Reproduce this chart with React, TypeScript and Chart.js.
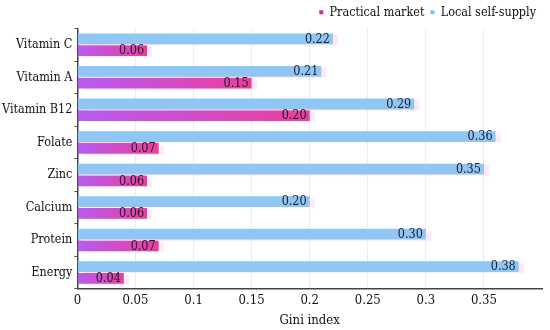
import React, { useEffect, useRef } from "react";
import { Chart, registerables } from "chart.js";

Chart.register(...registerables);

const categories = ["Vitamin C", "Vitamin A", "Vitamin B12", "Folate", "Zinc", "Calcium", "Protein", "Energy"];
const localSelfSupply = [0.22, 0.21, 0.29, 0.36, 0.35, 0.2, 0.3, 0.38];
const practicalMarket = [0.06, 0.15, 0.2, 0.07, 0.06, 0.06, 0.07, 0.04];
const xTicks = [0, 0.05, 0.1, 0.15, 0.2, 0.25, 0.3, 0.35];

const FONT = "'DejaVu Serif Condensed', 'DejaVu Serif', serif";

const labelPlugin = {
  id: "valueLabels",
  afterDatasetsDraw(chart: any) {
    const ctx = chart.ctx;
    ctx.save();
    ctx.font = `12.5px ${FONT}`;
    ctx.fillStyle = "#1a1a2a";
    ctx.textAlign = "right";
    ctx.textBaseline = "middle";
    chart.data.datasets.forEach((ds: any, di: number) => {
      const meta = chart.getDatasetMeta(di);
      meta.data.forEach((el: any, i: number) => {
        const v = ds.data[i];
        ctx.fillText(v.toFixed(2), el.x - 3, el.y + 0.5);
      });
    });
    ctx.restore();
  },
};

const shadowPlugin = {
  id: "barShadow",
  beforeDatasetDraw(chart: any) {
    const ctx = chart.ctx;
    ctx.save();
    ctx.shadowColor = "rgba(255, 205, 238, 0.45)";
    ctx.shadowOffsetX = 5;
    ctx.shadowOffsetY = 1;
    ctx.shadowBlur = 1;
  },
  afterDatasetDraw(chart: any) {
    chart.ctx.restore();
  },
};

export default function App() {
  const ref = useRef<HTMLCanvasElement>(null);
  useEffect(() => {
    document.body.style.margin = "0";
    const c = ref.current!;
    const chart = new Chart(c, {
      type: "bar",
      data: {
        labels: categories,
        datasets: [
          {
            label: "Local self-supply",
            data: localSelfSupply,
            backgroundColor: "#8fc6f3",
            borderWidth: 0,
          } as any,
          {
            label: "Practical market",
            data: practicalMarket,
            backgroundColor: (ctx: any) => {
              const ch = ctx.chart;
              const x = ch.scales?.x;
              if (!x || ctx.parsed === undefined || ctx.parsed.x === undefined) return "#d94fc0";
              const x0 = x.getPixelForValue(0);
              const x1 = x.getPixelForValue(ctx.parsed.x);
              if (!isFinite(x0) || !isFinite(x1) || x1 - x0 < 1) return "#d94fc0";
              const g = ch.ctx.createLinearGradient(x0, 0, x1, 0);
              g.addColorStop(0, "#b65cf2");
              g.addColorStop(1, "#ea3f9a");
              return g;
            },
            borderWidth: 0,
          } as any,
        ],
      },
      options: {
        indexAxis: "y",
        animation: false,
        responsive: false,
        devicePixelRatio: 1,
        layout: { padding: { left: 0, right: 8, top: 0, bottom: 2 } },
        datasets: { bar: { categoryPercentage: 0.72, barPercentage: 0.92 } },
        plugins: {
          legend: {
            position: "top",
            align: "end",
            labels: {
              usePointStyle: true,
              pointStyle: "rect",
              boxWidth: 4,
              boxHeight: 4,
              padding: 6,
              color: "#111",
              font: { family: FONT, size: 12.5 },
              generateLabels: (chart: any) => {
                const cols = ["#7fbfee", "#e0258f"];
                return chart.data.datasets
                  .map((ds: any, i: number) => ({
                    text: ds.label,
                    fillStyle: cols[i],
                    strokeStyle: cols[i],
                    lineWidth: 0,
                    pointStyle: "rect",
                    datasetIndex: i,
                    hidden: false,
                    fontColor: "#111",
                  }))
                  .reverse();
              },
            },
          },
          tooltip: { enabled: false },
        },
        scales: {
          x: {
            min: 0,
            max: 0.4,
            afterBuildTicks: (axis: any) => {
              axis.ticks = xTicks.map((v) => ({ value: v }));
            },
            ticks: {
              color: "#111",
              font: { family: FONT, size: 13 },
              padding: 4,
              callback: (v: any) => String(Number(v)),
              maxRotation: 0,
            },
            grid: { color: "#ececec", drawTicks: false },
            border: { color: "#444", width: 1.5 },
            title: {
              display: true,
              text: "Gini index",
              color: "#111",
              font: { family: FONT, size: 13 },
              padding: { top: 0, bottom: 0 },
            },
          },
          y: {
            ticks: {
              color: "#111",
              font: { family: FONT, size: 12.5 },
              padding: 2,
            },
            grid: { drawOnChartArea: false, tickLength: 3, color: "#555" },
            border: { color: "#444", width: 1.5 },
          },
        },
      },
      plugins: [labelPlugin, shadowPlugin],
    } as any);
    return () => chart.destroy();
  }, []);
  return <canvas ref={ref} width={550} height={330} style={{ display: "block" }} />;
}
